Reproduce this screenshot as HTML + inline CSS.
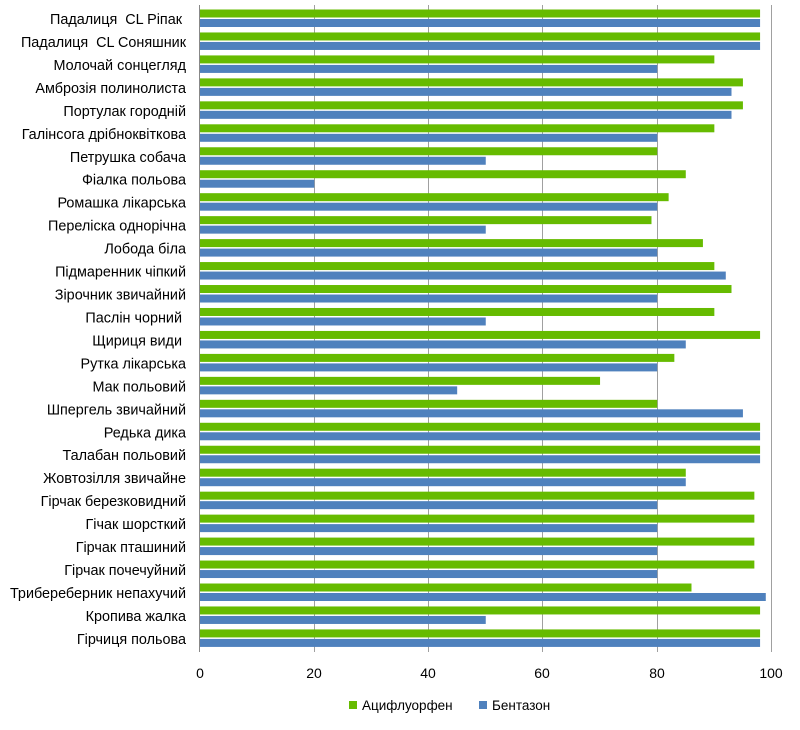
<!DOCTYPE html>
<html><head><meta charset="utf-8"><style>
body{margin:0;background:#fff;}
svg text{font-family:"Liberation Sans",Arial,sans-serif;}
</style></head><body>
<svg width="800" height="725" xmlns="http://www.w3.org/2000/svg">
<g stroke="#a0a0a0" stroke-width="1">
<line x1="314.5" y1="5" x2="314.5" y2="652"/>
<line x1="428.5" y1="5" x2="428.5" y2="652"/>
<line x1="542.5" y1="5" x2="542.5" y2="652"/>
<line x1="657.5" y1="5" x2="657.5" y2="652"/>
<line x1="771.5" y1="5" x2="771.5" y2="652"/>
<line x1="199.5" y1="5" x2="199.5" y2="652" stroke="#888"/>
</g>
<g id="bars"></g>
<g font-size="14.4" fill="#000" text-anchor="end" id="labels"></g>
<g font-size="14" fill="#000" text-anchor="middle">
<text x="200" y="678">0</text><text x="314" y="678">20</text><text x="428" y="678">40</text><text x="542" y="678">60</text><text x="657" y="678">80</text><text x="771" y="678">100</text>
</g>
<rect x="349" y="701" width="8" height="8" fill="#66bb00"/>
<text x="362" y="710" font-size="13.5">Ацифлуорфен</text>
<rect x="479" y="701" width="8" height="8" fill="#4f81bd"/>
<text x="492" y="710" font-size="13.5">Бентазон</text>
<script>
var d=[["Падалиця  CL Ріпак ",98,98],["Падалиця  CL Соняшник",98,98],["Молочай сонцегляд",90,80],["Амброзія полинолиста",95,93],["Портулак городній",95,93],["Галінсога дрібноквіткова",90,80],["Петрушка собача",80,50],["Фіалка польова",85,20],["Ромашка лікарська",82,80],["Переліска однорічна",79,50],["Лобода біла",88,80],["Підмаренник чіпкий",90,92],["Зірочник звичайний",93,80],["Паслін чорний ",90,50],["Щириця види ",98,85],["Рутка лікарська",83,80],["Мак польовий",70,45],["Шпергель звичайний",80,95],["Редька дика",98,98],["Талабан польовий",98,98],["Жовтозілля звичайне",85,85],["Гірчак березковидний",97,80],["Гічак шорсткий",97,80],["Гірчак пташиний",97,80],["Гірчак почечуйний",97,80],["Трибереберник непахучий",86,99],["Кропива жалка",98,50],["Гірчиця польова",98,98]];
var ns="http://www.w3.org/2000/svg",b=document.getElementById("bars"),l=document.getElementById("labels");
d.forEach(function(r,i){var y=9.5+i*22.96;
function rc(yy,v,c){var e=document.createElementNS(ns,"rect");e.setAttribute("x",200);e.setAttribute("y",yy);e.setAttribute("width",v*5.715);e.setAttribute("height",8);e.setAttribute("fill",c);b.appendChild(e);}
rc(y,r[1],"#66bb00");rc(y+9.5,r[2],"#4f81bd");
var t=document.createElementNS(ns,"text");t.setAttribute("x",186);t.setAttribute("y",y+14.5);t.style.whiteSpace="pre";t.textContent=r[0];l.appendChild(t);});
</script>
</svg>
</body></html>
